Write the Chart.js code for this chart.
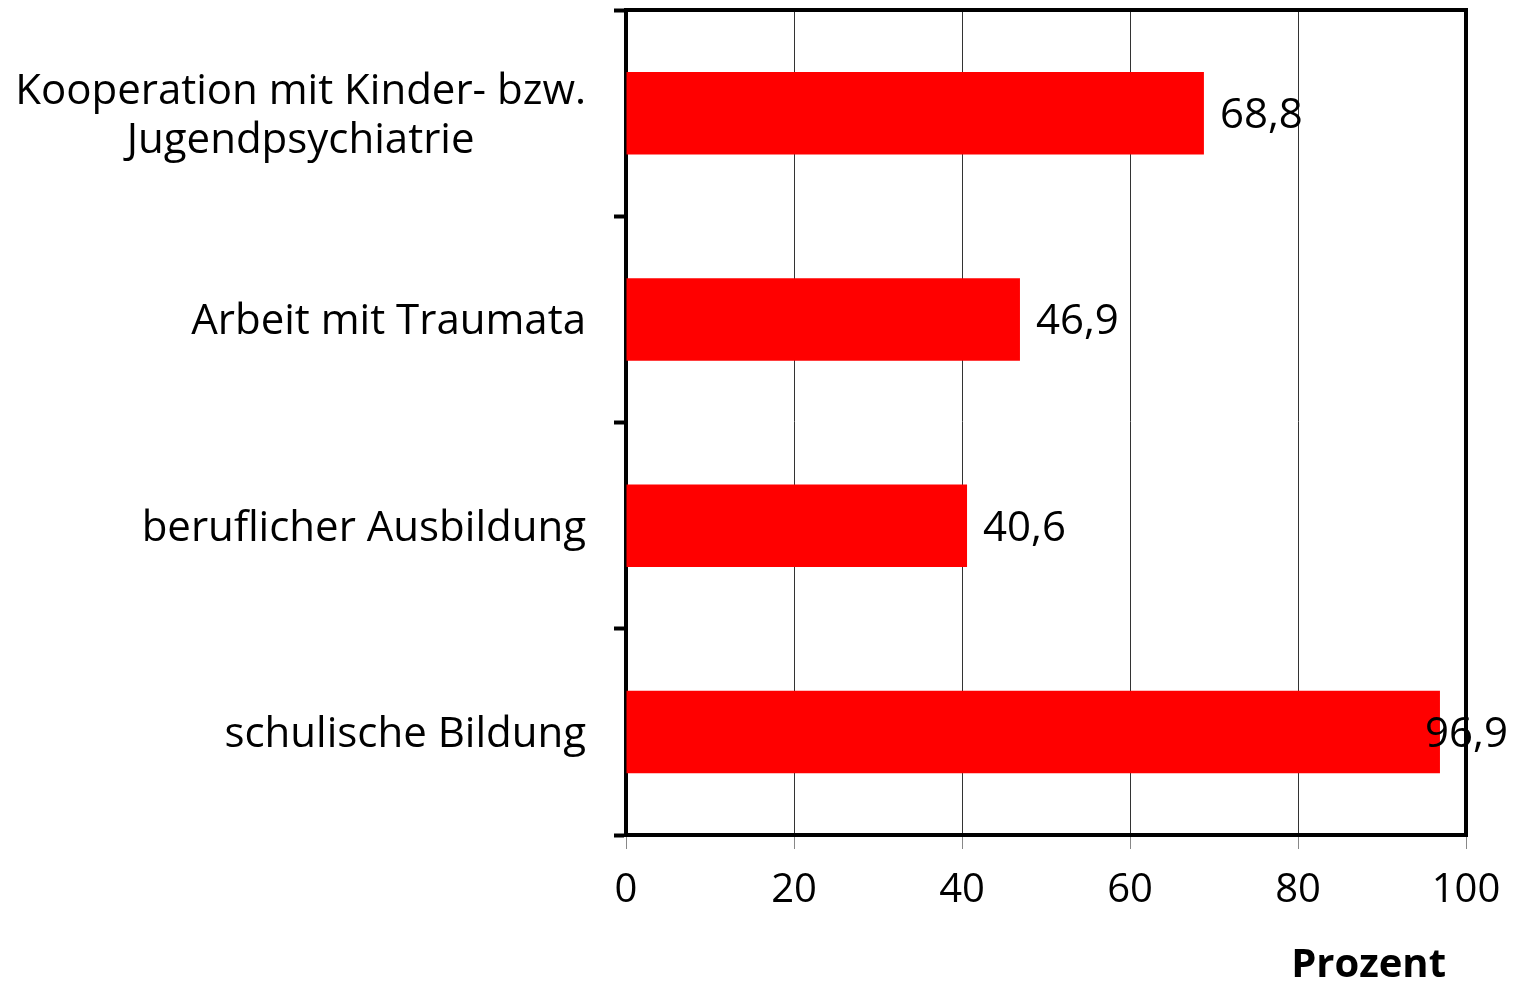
<!DOCTYPE html>
<html>
<head>
<meta charset="utf-8">
<script src="https://cdn.jsdelivr.net/npm/chart.js@4"></script>
<style>
  html, body { margin: 0; padding: 0; background: #fff; }
  #wrap { width: 1522px; height: 981px; }
</style>
</head>
<body>
<div id="wrap"><canvas id="chart"></canvas></div>
<script>
// data
const categories = [
  ['Kooperation mit Kinder- bzw.', 'Jugendpsychiatrie'],
  'Arbeit mit Traumata',
  'beruflicher Ausbildung',
  'schulische Bildung'
];
const values = [68.8, 46.9, 40.6, 96.9];
const xTicks = [0, 20, 40, 60, 80, 100];
const axisTitle = 'Prozent';

const FONT = '"Open Sans", "Liberation Sans", sans-serif';
Chart.defaults.font.family = FONT;
Chart.defaults.color = '#000';

const fmt = v => v.toFixed(1).replace('.', ',');

// category labels: block right-aligned, lines centred inside the block
// also the axis title (right end sits a bit inside the plot edge)
const yLabels = {
  id: 'yLabels',
  afterDraw(chart) {
    const s = chart.scales.y;
    const ctx = chart.ctx;
    ctx.save();
    ctx.font = '42px ' + FONT;
    ctx.fillStyle = '#000';
    ctx.textBaseline = 'middle';
    ctx.textAlign = 'center';
    const right = s.right - 12 - 28;
    const lh = 49;
    categories.forEach((c, i) => {
      const lines = Array.isArray(c) ? c : [c];
      const w = Math.max(...lines.map(l => ctx.measureText(l).width));
      const cx = right - w / 2;
      const y0 = s.getPixelForTick(i) + 3 - (lines.length - 1) * lh / 2;
      lines.forEach((l, j) => ctx.fillText(l, cx, y0 + j * lh));
    });

    ctx.font = 'bold 40px ' + FONT;
    ctx.textAlign = 'right';
    ctx.fillText(axisTitle, chart.chartArea.right - 20, chart.chartArea.bottom + 131);
    ctx.restore();
  }
};

// top/right frame + value labels
const frameAndValues = {
  id: 'frameAndValues',
  afterDatasetsDraw(chart) {
    const a = chart.chartArea;
    const ctx = chart.ctx;
    ctx.save();
    ctx.strokeStyle = '#000';
    ctx.lineWidth = 4;
    ctx.beginPath();
    ctx.moveTo(a.left - 2, a.top);
    ctx.lineTo(a.right, a.top);
    ctx.lineTo(a.right, a.bottom + 2);
    ctx.stroke();

    ctx.font = '42px ' + FONT;
    ctx.fillStyle = '#000';
    ctx.textAlign = 'left';
    ctx.textBaseline = 'middle';
    chart.getDatasetMeta(0).data.forEach((bar, i) => {
      const txt = fmt(values[i]);
      const w = ctx.measureText(txt).width;
      const x = Math.min(bar.x + 16, chart.width - 14 - w);
      ctx.fillText(txt, x, bar.y + 3);
    });
    ctx.restore();
  }
};

new Chart(document.getElementById('chart'), {
  type: 'bar',
  data: {
    labels: categories,
    datasets: [{
      data: values,
      backgroundColor: '#ff0000',
      borderWidth: 0,
      barPercentage: 0.4,
      categoryPercentage: 1
    }]
  },
  options: {
    indexAxis: 'y',
    responsive: true,
    maintainAspectRatio: false,
    animation: false,
    layout: { padding: { top: 10, right: 56, left: 0, bottom: 0 } },
    plugins: {
      legend: { display: false },
      tooltip: { enabled: false }
    },
    scales: {
      x: {
        min: xTicks[0],
        max: xTicks[xTicks.length - 1],
        afterFit: s => { s.height = 146; },
        afterBuildTicks: s => { s.ticks = xTicks.map(v => ({ value: v })); },
        ticks: { font: { size: 40 }, padding: 18, color: '#000' },
        grid: { color: '#333', lineWidth: 1, tickLength: 14, tickColor: '#888', tickWidth: 1 },
        border: { display: true, color: '#000', width: 4 }
      },
      y: {
        afterFit: s => { s.width = 626; },
        ticks: { font: { size: 4 }, padding: 0, callback: () => '' },
        grid: { drawOnChartArea: false, offset: true, tickLength: 12, tickColor: '#000', tickWidth: 4 },
        border: { display: true, color: '#000', width: 4 }
      }
    }
  },
  plugins: [yLabels, frameAndValues]
});
</script>
</body>
</html>
